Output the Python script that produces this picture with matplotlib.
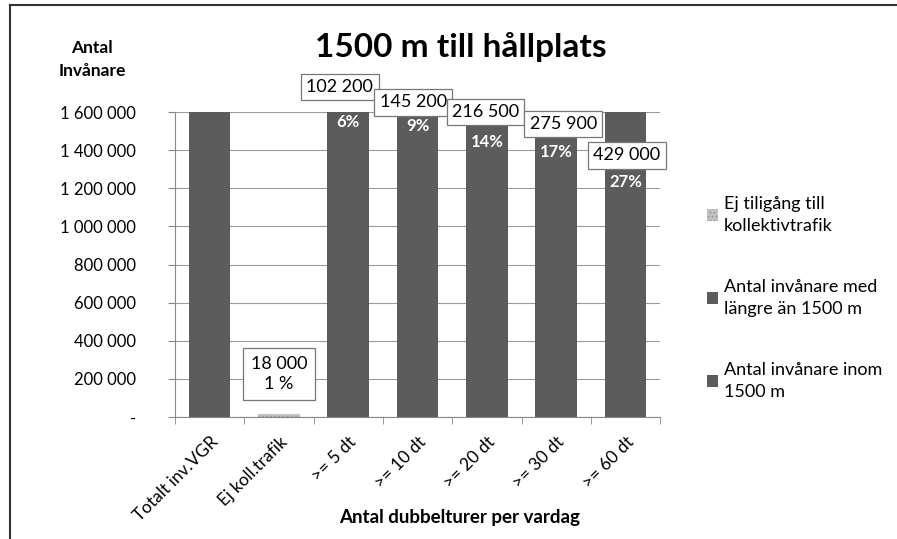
import matplotlib.pyplot as plt
import matplotlib.transforms as mtransforms
import numpy as np
from matplotlib.lines import Line2D

plt.rcParams['font.family'] = ['Lato', 'DejaVu Sans']

# Categories on the x-axis
categories = ['Totalt inv.VGR', 'Ej koll.trafik', '>= 5 dt', '>= 10 dt',
              '>= 20 dt', '>= 30 dt', '>= 60 dt']

# Series values (antal invånare)
ej_tillgang = [0, 18000, 0, 0, 0, 0, 0]
langre = [0, 0, 102200, 145200, 216500, 275900, 429000]
inom = [1600000, 0, 1497800, 1454800, 1383500, 1324100, 1171000]

# Label texts
langre_pct = ['', '', '6%', '9%', '14%', '17%', '27%']
ej_label = '18 000\n1 %'

# annotation placement (y in data units)
box_y = [None, None, 1731000, 1652000, 1600000, 1537000, 1374000]
box_dx = [0, 0, -0.12, -0.06, -0.02, 0.1, 0.02]
pct_y = [None, None, 1547000, 1526000, 1442000, 1390000, 1232000]

fig = plt.figure(figsize=(8.97, 5.39), dpi=100)
ax = fig.add_axes([0.195, 0.2263, 0.541, 0.5659])

x = np.arange(len(categories))
w = 0.6
c_ej = '#c4c4c4'
c_langre = '#5c5c5c'
c_inom = '#5c5c5c'

ax.bar(x, inom, w, color=c_inom, label='Antal invånare inom\n1500 m', zorder=2)
ax.bar(x, langre, w, bottom=inom, color=c_langre,
       label='Antal invånare med\nlängre än 1500 m', zorder=2)
ax.bar(x, ej_tillgang, w, color=c_ej, hatch='....', edgecolor='#9a9a9a',
       linewidth=0, label='Ej tiligång till\nkollektivtrafik', zorder=2)

ax.set_ylim(0, 1600000)
ax.set_xlim(-0.5, len(categories) - 0.5)
yt = np.arange(0, 1600001, 200000)
ax.set_yticks(yt)
ax.set_yticklabels(['-'] + [f'{v:,}'.replace(',', ' ') for v in yt[1:]], fontsize=12)
ax.set_xticks(x)
ax.set_xticklabels(categories, rotation=45, ha='right', va='top',
                   rotation_mode='anchor', fontsize=12.5)
offset = mtransforms.ScaledTranslation(10 / 72, 0, fig.dpi_scale_trans)
for lbl in ax.get_xticklabels():
    lbl.set_transform(lbl.get_transform() + offset)
ax.set_xticks(np.arange(-0.5, len(categories)), minor=True)
ax.tick_params(axis='x', which='major', length=0, pad=12)
ax.tick_params(axis='x', which='minor', length=5, color='#888888', direction='out')
ax.tick_params(axis='y', length=5, color='#888888', pad=23)
ax.grid(axis='y', color='#9a9a9a', linewidth=0.8, zorder=0)
for s in ['top', 'right']:
    ax.spines[s].set_visible(False)
ax.spines['left'].set_color('#888888')
ax.spines['bottom'].set_color('#888888')

for i in range(len(categories)):
    if langre[i]:
        ax.text(x[i] + box_dx[i], box_y[i], f'{langre[i]:,}'.replace(',', ' '),
                ha='center', va='center', fontsize=13, zorder=5,
                bbox=dict(boxstyle='square,pad=0.3', fc='white', ec='#777777', lw=0.9))
        ax.text(x[i], pct_y[i], langre_pct[i], ha='center', va='center',
                fontsize=12, color='white', fontweight='bold', zorder=5)
ax.text(x[1], 226000, ej_label, ha='center', va='center', fontsize=13,
        linespacing=1.3, zorder=5,
        bbox=dict(boxstyle='square,pad=0.45', fc='white', ec='#777777', lw=0.9))

fig.text(0.514, 0.913, '1500 m till hållplats', ha='center', va='center',
         fontsize=24, fontweight='bold')
fig.text(0.512, 0.039, 'Antal dubbelturer per vardag', ha='center', va='center',
         fontsize=13.5, fontweight='bold')
fig.text(0.103, 0.925, 'Antal\nInvånare', ha='center', va='top', fontsize=12.5,
         fontweight='bold', linespacing=1.5)

handles, labels = ax.get_legend_handles_labels()
leg = fig.legend(handles[::-1], labels[::-1], loc='upper left', bbox_to_anchor=(0.77, 0.667),
                 frameon=False, fontsize=13, handlelength=0.6, handleheight=0.6,
                 handletextpad=0.35, labelspacing=2.5)
for t in leg.get_texts():
    t.set_linespacing(1.45)

# outer frame (left and top lines only)
fig.add_artist(Line2D([0.011, 0.011], [0, 0.99], transform=fig.transFigure, color='#333333', lw=1.5))
fig.add_artist(Line2D([0.011, 1.0], [0.99, 0.99], transform=fig.transFigure, color='#333333', lw=1.5))

fig.savefig('out.png', dpi=100)
